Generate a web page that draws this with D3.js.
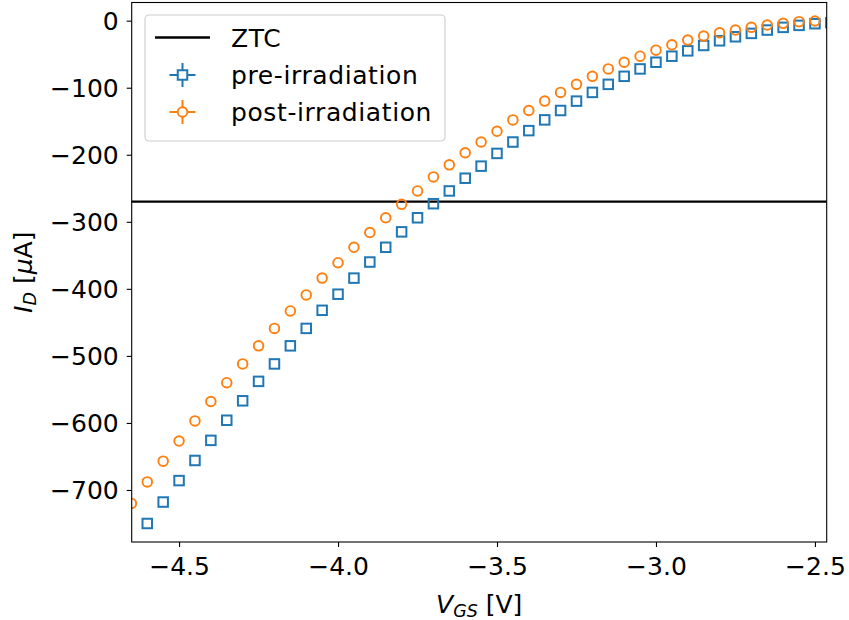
<!DOCTYPE html>
<html>
<head>
<meta charset="utf-8">
<script src="https://cdn.jsdelivr.net/npm/d3@7"></script>
<style>
  body { margin: 0; background: #fff; }
  svg { display: block; font-family: "DejaVu Sans", sans-serif; }
</style>
</head>
<body>
<div id="chart"></div>
<script>
// Gate voltage sweep (V) and drain current (uA)
const vgsPre = [-4.6, -4.55, -4.5, -4.45, -4.4, -4.35, -4.3, -4.25, -4.2, -4.15, -4.1, -4.05, -4.0,
  -3.95, -3.9, -3.85, -3.8, -3.75, -3.7, -3.65, -3.6, -3.55, -3.5, -3.45, -3.4, -3.35, -3.3, -3.25,
  -3.2, -3.15, -3.1, -3.05, -3.0, -2.95, -2.9, -2.85, -2.8, -2.75, -2.7, -2.65, -2.6, -2.55, -2.5, -2.45];
const idPre = [-750, -718, -686, -656, -626, -596, -567, -538, -512, -485, -459, -432, -408,
  -384, -360, -338, -315, -294, -273, -254, -235, -217, -198, -181, -164, -148, -134, -120,
  -107, -95, -83, -72, -62, -53, -45, -37, -30, -24, -19, -14, -10, -7, -4.5, -3];

const vgsPost = [-4.65, -4.6, -4.55, -4.5, -4.45, -4.4, -4.35, -4.3, -4.25, -4.2, -4.15, -4.1, -4.05,
  -4.0, -3.95, -3.9, -3.85, -3.8, -3.75, -3.7, -3.65, -3.6, -3.55, -3.5, -3.45, -3.4, -3.35, -3.3,
  -3.25, -3.2, -3.15, -3.1, -3.05, -3.0, -2.95, -2.9, -2.85, -2.8, -2.75, -2.7, -2.65, -2.6, -2.55, -2.5];
const idPost = [-720, -688, -657, -627, -597, -568, -540, -512, -485, -459, -433, -409, -384,
  -361, -338, -316, -294, -274, -254, -233, -215, -197, -181, -165, -148, -134, -120, -107,
  -95, -83, -72, -62, -53, -44, -36, -29, -23, -18, -14, -10, -6.5, -4, -1.5, -0.5];

const ztcCurrent = -270;

const xTicks = [-4.5, -4.0, -3.5, -3.0, -2.5];
const yTicks = [0, -100, -200, -300, -400, -500, -600, -700];

const legendLabels = ['ZTC', 'pre-irradiation', 'post-irradiation'];

const blue = '#1f77b4';
const orange = '#ff7f0e';
const fs = '25px';

const W = 849, H = 620;
const margin = { top: 2.5, right: 22.3, bottom: 78, left: 131.7 };
const width = W - margin.left - margin.right;
const height = H - margin.top - margin.bottom;

const svg = d3.select('#chart').append('svg')
  .attr('width', W)
  .attr('height', H);

const g = svg.append('g')
  .attr('transform', `translate(${margin.left},${margin.top})`);

const x = d3.scaleLinear().domain([-4.649, -2.463]).range([0, width]);
const y = d3.scaleLinear().domain([-777.6, 27.1]).range([height, 0]);

const minus = s => s.replace('-', '\u2212');

g.append('clipPath').attr('id', 'clip')
  .append('rect').attr('width', width).attr('height', height);

// axes
const xAxis = g.append('g')
  .attr('transform', `translate(0,${height})`)
  .call(d3.axisBottom(x).tickValues(xTicks).tickSize(5).tickPadding(4)
    .tickFormat(v => minus(d3.format('.1f')(v))));
const yAxis = g.append('g')
  .call(d3.axisLeft(y).tickValues(yTicks).tickSize(5).tickPadding(8)
    .tickFormat(v => minus(d3.format('d')(v))));

[xAxis, yAxis].forEach(a => {
  a.select('.domain').remove();
  a.selectAll('.tick line').attr('stroke', '#000').attr('stroke-width', 1.1);
  a.selectAll('.tick text')
    .attr('fill', '#000')
    .style('font-size', fs)
    .style('font-family', '"DejaVu Sans", sans-serif');
});
xAxis.selectAll('.tick text').attr('dy', '0.95em');
yAxis.selectAll('.tick text').attr('dy', '0.36em');

// data
const plot = g.append('g').attr('clip-path', 'url(#clip)');

plot.append('line')
  .attr('x1', 0).attr('x2', width)
  .attr('y1', y(ztcCurrent)).attr('y2', y(ztcCurrent))
  .attr('stroke', '#000').attr('stroke-width', 2.3);

const preData = vgsPre.map((v, i) => ({ v, id: idPre[i] }));
const postData = vgsPost.map((v, i) => ({ v, id: idPost[i] }));

const sq = 9.5;
plot.append('g').selectAll('rect')
  .data(preData)
  .enter()
  .append('rect')
  .attr('x', d => x(d.v) - sq / 2)
  .attr('y', d => y(d.id) - sq / 2)
  .attr('width', sq).attr('height', sq)
  .attr('fill', 'none')
  .attr('stroke', blue).attr('stroke-width', 2);

plot.append('g').selectAll('circle')
  .data(postData)
  .enter()
  .append('circle')
  .attr('cx', d => x(d.v))
  .attr('cy', d => y(d.id))
  .attr('r', 4.8)
  .attr('fill', 'none')
  .attr('stroke', orange).attr('stroke-width', 1.9);

// frame
g.append('rect')
  .attr('width', width).attr('height', height)
  .attr('fill', 'none').attr('stroke', '#000').attr('stroke-width', 1.1);

// axis labels
const xl = svg.append('text')
  .attr('x', margin.left + width / 2).attr('y', 613)
  .attr('text-anchor', 'middle')
  .style('font-size', fs);
xl.append('tspan').attr('font-style', 'italic').text('V');
xl.append('tspan').attr('font-style', 'italic').attr('font-size', '17.5px').attr('dy', 4).text('GS');
xl.append('tspan').attr('dy', -4).text(' [V]');

const yl = svg.append('text')
  .attr('transform', `translate(32,${margin.top + height / 2}) rotate(-90)`)
  .attr('text-anchor', 'middle')
  .style('font-size', fs);
yl.append('tspan').attr('font-style', 'italic').text('I');
yl.append('tspan').attr('font-style', 'italic').attr('font-size', '17.5px').attr('dy', 4).text('D');
yl.append('tspan').attr('dy', -4).text(' [');
yl.append('tspan').attr('font-style', 'italic').text('\u03bc');
yl.append('tspan').text('A]');

// legend
const lg = svg.append('g');
lg.append('rect')
  .attr('x', 145).attr('y', 15).attr('width', 300).attr('height', 126).attr('rx', 4)
  .attr('fill', '#fff').attr('fill-opacity', 0.8)
  .attr('stroke', '#cccccc').attr('stroke-width', 1.1);

const rowY = [37.5, 75, 112];
const mx = 182.5;
lg.append('line')
  .attr('x1', 155).attr('x2', 210).attr('y1', rowY[0]).attr('y2', rowY[0])
  .attr('stroke', '#000').attr('stroke-width', 2.3);

[[blue, 'square'], [orange, 'circle']].forEach(([c, shape], i) => {
  const cy = rowY[i + 1];
  lg.append('line').attr('x1', mx - 13).attr('x2', mx + 13).attr('y1', cy).attr('y2', cy)
    .attr('stroke', c).attr('stroke-width', 2);
  lg.append('line').attr('x1', mx).attr('x2', mx).attr('y1', cy - 12).attr('y2', cy + 12)
    .attr('stroke', c).attr('stroke-width', 2);
  if (shape === 'square') {
    lg.append('rect').attr('x', mx - sq / 2).attr('y', cy - sq / 2).attr('width', sq).attr('height', sq)
      .attr('fill', '#fff').attr('stroke', c).attr('stroke-width', 2);
  } else {
    lg.append('circle').attr('cx', mx).attr('cy', cy).attr('r', 4.8)
      .attr('fill', '#fff').attr('stroke', c).attr('stroke-width', 1.9);
  }
});

lg.selectAll('text.lab')
  .data(legendLabels)
  .enter()
  .append('text')
  .attr('class', 'lab')
  .attr('x', 231)
  .attr('y', (d, i) => rowY[i])
  .attr('dy', '0.36em')
  .style('font-size', fs)
  .style('letter-spacing', '0.6px')
  .text(d => d);
</script>
</body>
</html>
